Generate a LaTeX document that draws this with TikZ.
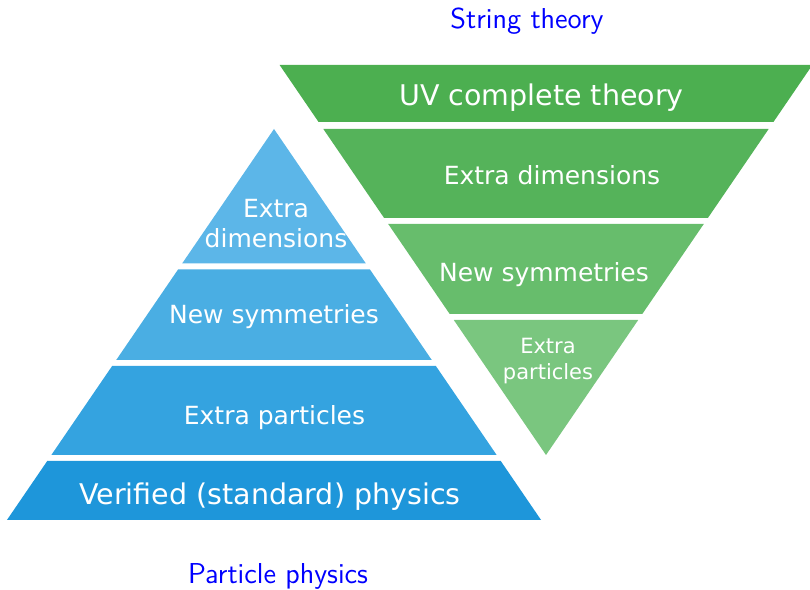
\documentclass[tikz,border=0pt]{standalone}
\usepackage{fontspec}
\usepackage{xcolor}
\usetikzlibrary{positioning}
\newfontfamily\layerfont{DejaVu Sans}

\definecolor{pbluei}{HTML}{5CB6E8}
\definecolor{pblueii}{HTML}{4AAEE3}
\definecolor{pblueiii}{HTML}{34A3E0}
\definecolor{pblueiv}{HTML}{1E96DA}
\definecolor{pgreeni}{HTML}{4CAF50}
\definecolor{pgreenii}{HTML}{55B35A}
\definecolor{pgreeniii}{HTML}{67BD6C}
\definecolor{pgreeniv}{HTML}{7AC67F}

\begin{document}
\begin{tikzpicture}[x=0.5pt, y=0.5pt,
  layer/.style={text=white, align=center, inner sep=0pt},
  big/.style={font=\layerfont\fontsize{14.25}{17}\selectfont},
  mid/.style={font=\layerfont\fontsize{12.5}{15}\selectfont},
  small/.style={font=\layerfont\fontsize{10.5}{13}\selectfont},
  caption/.style={text=blue, font=\sffamily\Large, inner sep=0pt}]

\useasboundingbox (0,0) rectangle (810,590);

% Blue pyramid, apex at (274,461)
\foreach \da/\db/\col in {0/134.5/pbluei, 140.5/231/pblueii,
                          237/326/pblueiii, 332/391/pblueiv}
  \fill[\col] ({274-0.683*\da},{461-\da}) -- ({274+0.683*\da},{461-\da})
      -- ({274+0.683*\db},{461-\db}) -- ({274-0.683*\db},{461-\db}) -- cycle;

% Green pyramid, upside down, apex at (546,135)
\foreach \da/\db/\col in {0/135/pgreeniv, 141/231/pgreeniii,
                          237/326/pgreenii, 333/390/pgreeni}
  \fill[\col] ({546-0.683*\da},{135+\da}) -- ({546+0.683*\da},{135+\da})
      -- ({546+0.683*\db},{135+\db}) -- ({546-0.683*\db},{135+\db}) -- cycle;

% Layer labels
\node[layer, mid] (bdim) at (276,366.5) {Extra\\dimensions};
\node[layer, mid] (bsym) at (274,273) {New symmetries};
\node[layer, mid] (bpart) at (274.5,172.5) {Extra particles};
\node[layer, big] (bver) at (270,93.5) {Verified (standard) physics};

\node[layer, big] (guv) at (541.5,492.5) {UV complete theory};
\node[layer, mid] (gdim) at (552,414.7) {Extra dimensions};
\node[layer, mid] (gsym) at (544,315) {New symmetries};
\node[layer, small] (gpart) at (548,229) {Extra\\particles};

% Captions
\node[caption] (string) at (527,568.5) {String theory};
\node[caption] (particle) at (278,13.5) {Particle physics};

\end{tikzpicture}
\end{document}
